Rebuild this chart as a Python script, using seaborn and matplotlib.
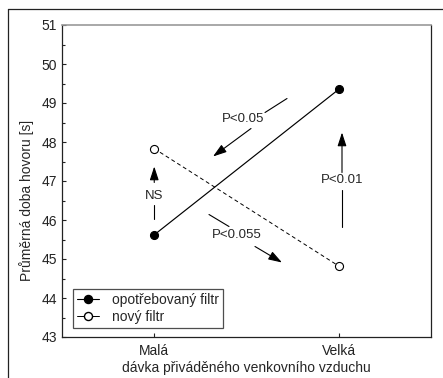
import matplotlib
matplotlib.use("Agg")
import matplotlib.pyplot as plt
import seaborn as sns
import pandas as pd
from matplotlib.lines import Line2D
from matplotlib.ticker import MultipleLocator

doses = ["Malá", "Velká"]
used_filter = [45.62, 49.35]
new_filter = [47.83, 44.82]
series_names = ["opotřebovaný filtr", "nový filtr"]
y_ticks = [43, 44, 45, 46, 47, 48, 49, 50, 51]

sns.set_theme(style="ticks")
plt.rcParams['font.family'] = ['Liberation Sans', 'DejaVu Sans']
plt.rcParams['font.size'] = 9

df = pd.DataFrame({
    "dose": doses * 2,
    "time": used_filter + new_filter,
    "filter": [series_names[0]] * 2 + [series_names[1]] * 2,
})

fig = plt.figure(figsize=(4.43, 3.78), dpi=100)
ax = fig.add_axes([62/443, 41/378, 369/443, 312/378])

sns.lineplot(data=df[df["filter"] == series_names[0]], x="dose", y="time",
             color="black", linewidth=0.85, linestyle="-", marker="o",
             markersize=5.8, markerfacecolor="black", markeredgecolor="black",
             ax=ax, label=series_names[0], legend=False)
sns.lineplot(data=df[df["filter"] == series_names[1]], x="dose", y="time",
             color="black", linewidth=0.7, linestyle=(0, (4, 3)), marker="o",
             markersize=5.8, markerfacecolor="white", markeredgecolor="black",
             markeredgewidth=0.8, ax=ax, label=series_names[1], legend=False)

ax.set_xlim(-0.5, 1.5)
ax.set_ylim(43, 51)
ax.set_yticks(y_ticks)
ax.yaxis.set_minor_locator(MultipleLocator(0.5))
ax.tick_params(axis="both", which="both", direction="in", colors="#222222",
               labelsize=10, width=0.8)
ax.tick_params(axis="both", which="major", length=3)
ax.tick_params(axis="x", which="major", pad=5)
ax.tick_params(axis="y", which="minor", length=2)
ax.set_xlabel("dávka přiváděného venkovního vzduchu", fontsize=10, labelpad=2)
ax.set_ylabel("Průměrná doba hovoru [s]", fontsize=10)
ax.yaxis.set_label_coords((34 - 62) / 369, (337 - 200) / 312)
for side in ["left", "bottom", "right"]:
    ax.spines[side].set_color("#222222")
    ax.spines[side].set_linewidth(0.9)
ax.spines["top"].set_color("#999999")
ax.spines["top"].set_linewidth(1.2)

arrow_style = "-|>,head_length=0.55,head_width=0.18"
def arrow(x0, y0, x1, y1):
    ax.annotate("", xy=(x1, y1), xytext=(x0, y0),
                arrowprops=dict(arrowstyle=arrow_style, color="black", lw=0.8,
                                mutation_scale=15, shrinkA=0, shrinkB=0))
def seg(x0, y0, x1, y1):
    ax.plot([x0, x1], [y0, y1], color="black", lw=0.8)

# P<0.05
seg(0.7195, 49.115, 0.6003, 48.756)
arrow(0.5244, 48.346, 0.3184, 47.628)
ax.text(0.4810, 48.577, "P<0.05", ha="center", va="center", fontsize=9.5)
# P<0.055
seg(0.2967, 46.141, 0.4051, 45.833)
arrow(0.546, 45.321, 0.6924, 44.910)
ax.text(0.4485, 45.603, "P<0.055", ha="center", va="center", fontsize=9.5)
# NS
seg(0.0, 46.013, 0.0, 46.397)
arrow(0.0, 46.962, 0.0, 47.372)
ax.text(0.0, 46.603, "NS", ha="center", va="center", fontsize=9.5)
# P<0.01
seg(1.0176, 45.833, 1.0176, 46.782)
arrow(1.0176, 47.218, 1.0176, 48.244)
ax.text(1.0176, 47.038, "P<0.01", ha="center", va="center", fontsize=9.5)

handles = [
    Line2D([], [], color="black", lw=0.8, marker="o", markersize=5.8,
           markerfacecolor="black", markeredgecolor="black"),
    Line2D([], [], color="black", lw=0.7, marker="o", markersize=5.8,
           markerfacecolor="white", markeredgecolor="black"),
]
leg = ax.legend(handles, series_names, loc="lower left",
                bbox_to_anchor=(11/369, 9/312), frameon=True, fancybox=False,
                edgecolor="#222222", fontsize=10, handlelength=1.6,
                handletextpad=0.9, borderpad=0.3, labelspacing=0.2,
                borderaxespad=0)
leg.get_frame().set_linewidth(0.9)

# outer frame (left and top lines)
fig.add_artist(Line2D([8/443, 8/443], [0, 1 - 9/378], color="#222222", lw=0.9))
fig.add_artist(Line2D([8/443, 1], [1 - 9/378, 1 - 9/378], color="#222222", lw=0.9))

fig.savefig("out.png", dpi=100)
